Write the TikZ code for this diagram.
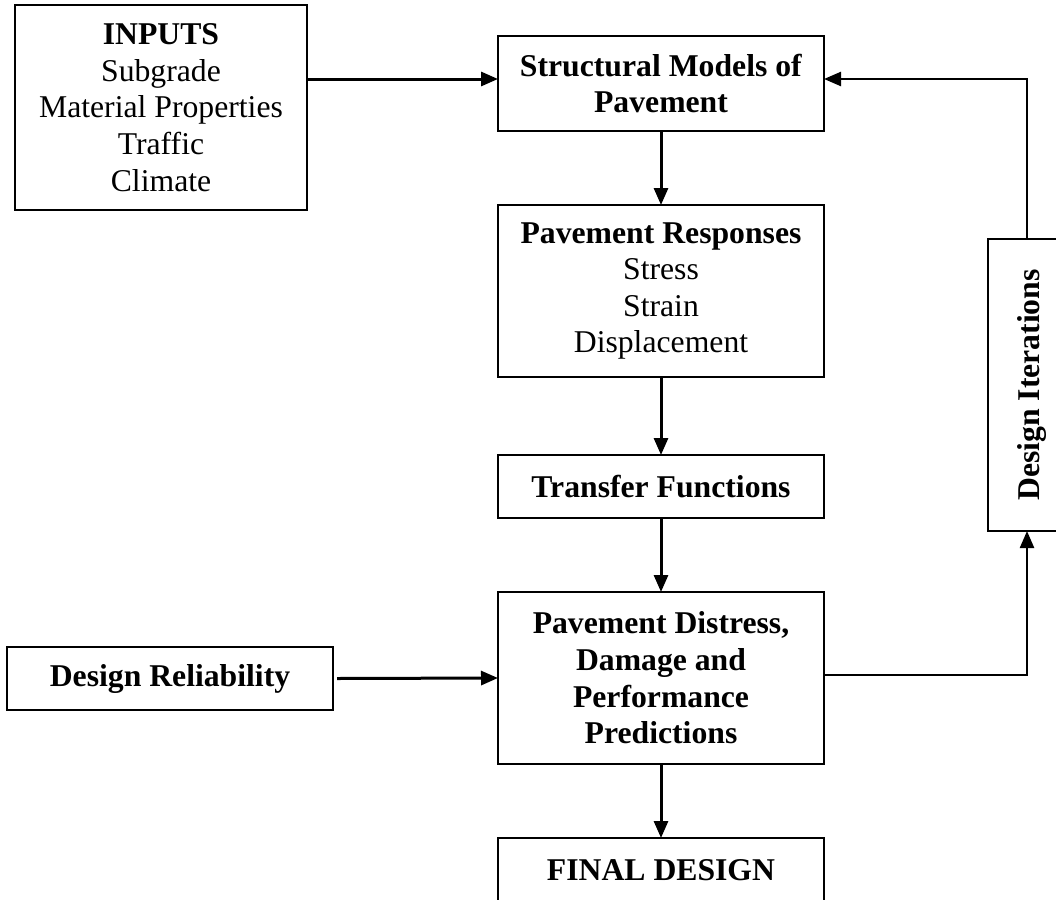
\documentclass[tikz,border=0pt]{standalone}
\usepackage{fontspec}
\setmainfont{Liberation Serif}
\usetikzlibrary{arrows.meta}
\begin{document}
\begin{tikzpicture}[x=1pt,y=-1pt,
  box/.style={draw, line width=2.4pt, align=center, inner sep=0pt, outer sep=0pt,
    minimum width=326pt, font=\fontsize{31.7pt}{36.6pt}\selectfont},
  tip/.style={-{Triangle[length=17pt,width=14pt]}},
  arr/.style={line width=3pt, tip},
  loopline/.style={line width=2.4pt, tip}]
\useasboundingbox (0,0) rectangle (1056,899);
\clip (0,0) rectangle (1056,899);
\fill[white] (0,0) rectangle (1056,899);

\node[box, minimum width=292pt, minimum height=205pt] (inputs) at (161,107.5)
  {\textbf{INPUTS}\\Subgrade\\Material Properties\\Traffic\\Climate};
\node[box, minimum height=95pt] (structural) at (661,83.5)
  {\textbf{Structural Models of}\\\textbf{Pavement}};
\node[box, minimum height=172pt] (responses) at (661,291)
  {\textbf{Pavement Responses}\\Stress\\Strain\\Displacement};
\node[box, minimum height=63pt] (transfer) at (661,486.5)
  {\textbf{Transfer Functions}};
\node[box, minimum height=172pt] (distress) at (661,678)
  {\textbf{Pavement Distress,}\\\textbf{Damage and}\\\textbf{Performance}\\\textbf{Predictions}};
\node[box, minimum height=64pt] (final) at (661,870)
  {\textbf{FINAL DESIGN}};
\node[box, minimum height=63pt] (reliability) at (170,678.5)
  {\textbf{Design Reliability}};
\node[box, minimum width=88pt, minimum height=292pt] (iter) at (1032,385)
  {\rotatebox{90}{\textbf{Design Iterations}}};

\coordinate (toprow) at (0,79);
\coordinate (loopx) at (1027,0);

\draw[arr] (inputs.east |- toprow) -- (structural.west |- toprow);
\draw[arr] (structural.south) -- (responses.north);
\draw[arr] (responses.south) -- (transfer.north);
\draw[arr] (transfer.south) -- (distress.north);
\draw[arr] (distress.south) -- (final.north);
\draw[arr] ([xshift=4pt]reliability.east) -- (distress.west);
\draw[loopline] ([yshift=3pt]distress.east) -| (iter.south -| loopx);
\draw[loopline] (iter.north -| loopx) |- (structural.east |- toprow);
\end{tikzpicture}
\end{document}
